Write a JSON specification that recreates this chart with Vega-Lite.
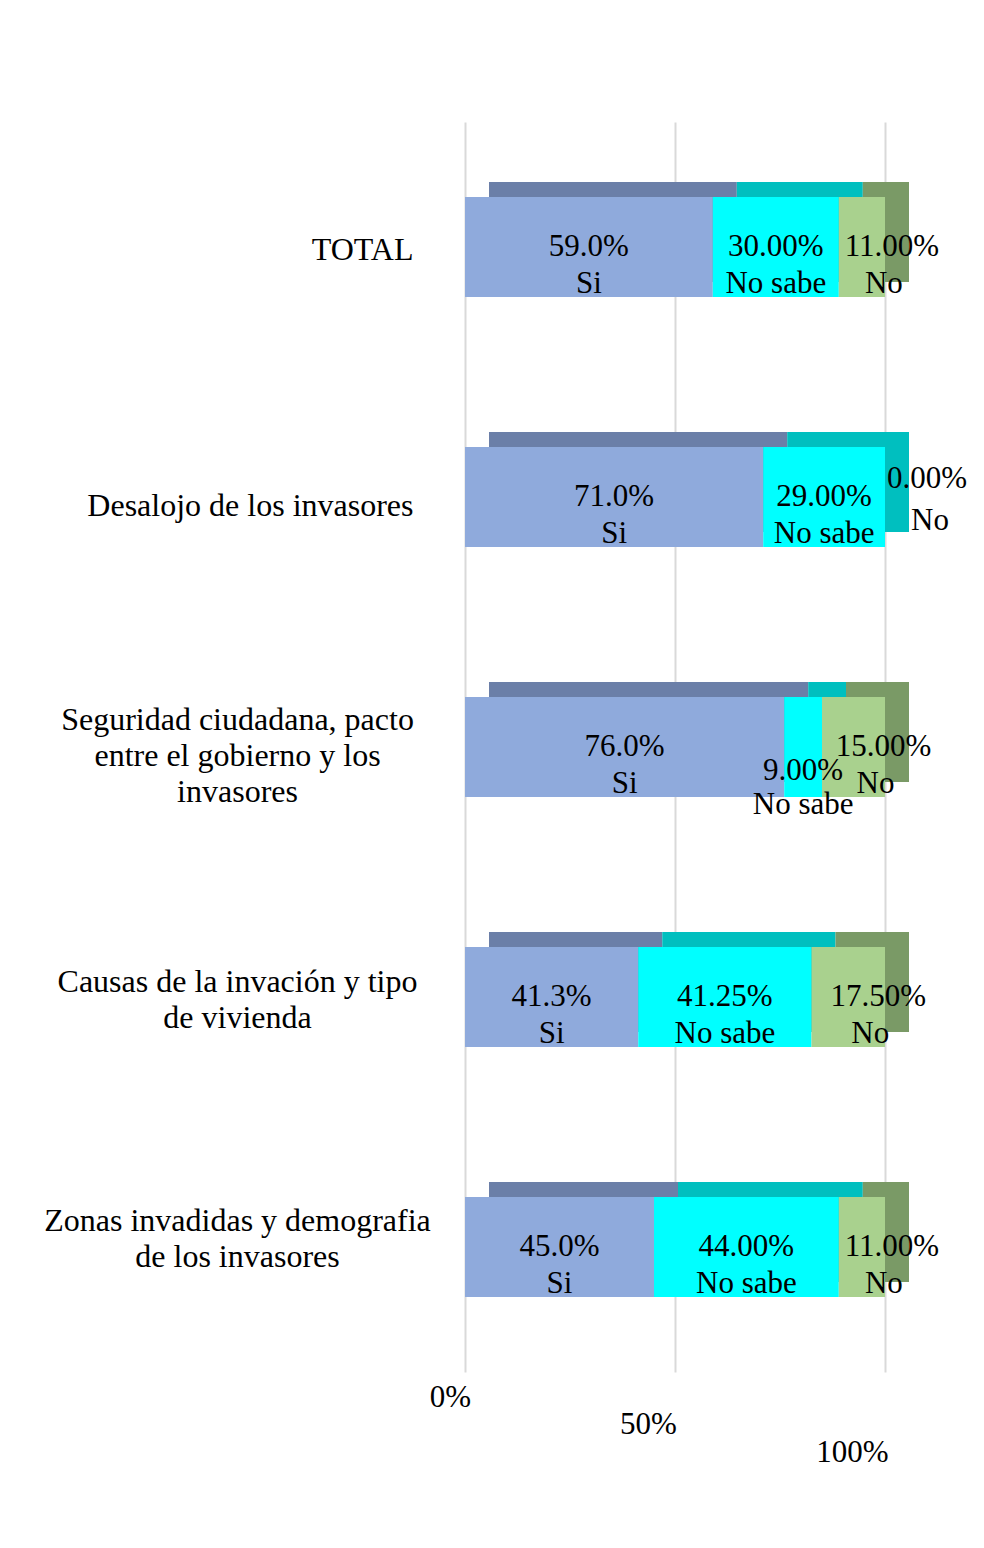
{
  "$schema": "https://vega.github.io/schema/vega-lite/v6.json",
  "autosize": "none",
  "padding": {"left": 465, "top": 122, "right": 99, "bottom": 176},
  "width": 420,
  "height": 1250,
  "background": "white",
  "config": {"view": {"stroke": null}, "font": "Liberation Serif"},
  "data": {
    "values": [
      {"categoria": "TOTAL", "serie": "Si", "valor": 0.59, "etiqueta": "59.0%"},
      {"categoria": "TOTAL", "serie": "No sabe", "valor": 0.30, "etiqueta": "30.00%"},
      {"categoria": "TOTAL", "serie": "No", "valor": 0.11, "etiqueta": "11.00%"},
      {"categoria": "Desalojo de los invasores", "serie": "Si", "valor": 0.71, "etiqueta": "71.0%"},
      {"categoria": "Desalojo de los invasores", "serie": "No sabe", "valor": 0.29, "etiqueta": "29.00%"},
      {"categoria": "Desalojo de los invasores", "serie": "No", "valor": 0.0, "etiqueta": "0.00%"},
      {"categoria": "Seguridad ciudadana, pacto entre el gobierno y los invasores", "serie": "Si", "valor": 0.76, "etiqueta": "76.0%"},
      {"categoria": "Seguridad ciudadana, pacto entre el gobierno y los invasores", "serie": "No sabe", "valor": 0.09, "etiqueta": "9.00%"},
      {"categoria": "Seguridad ciudadana, pacto entre el gobierno y los invasores", "serie": "No", "valor": 0.15, "etiqueta": "15.00%"},
      {"categoria": "Causas de la invación y tipo de vivienda", "serie": "Si", "valor": 0.4125, "etiqueta": "41.3%"},
      {"categoria": "Causas de la invación y tipo de vivienda", "serie": "No sabe", "valor": 0.4125, "etiqueta": "41.25%"},
      {"categoria": "Causas de la invación y tipo de vivienda", "serie": "No", "valor": 0.175, "etiqueta": "17.50%"},
      {"categoria": "Zonas invadidas y demografia de los invasores", "serie": "Si", "valor": 0.45, "etiqueta": "45.0%"},
      {"categoria": "Zonas invadidas y demografia de los invasores", "serie": "No sabe", "valor": 0.44, "etiqueta": "44.00%"},
      {"categoria": "Zonas invadidas y demografia de los invasores", "serie": "No", "valor": 0.11, "etiqueta": "11.00%"}
    ]
  },
  "transform": [
    {"stack": "valor", "groupby": ["categoria"], "sort": [{"field": "serie", "order": "descending"}], "as": ["x0", "x1"]},
    {"calculate": "(datum.x0 + datum.x1) / 2", "as": "xm"}
  ],
  "encoding": {
    "y": {
      "field": "categoria",
      "type": "nominal",
      "sort": ["TOTAL", "Desalojo de los invasores", "Seguridad ciudadana, pacto entre el gobierno y los invasores", "Causas de la invación y tipo de vivienda", "Zonas invadidas y demografia de los invasores"],
      "scale": {"paddingInner": 0.6, "paddingOuter": 0.3},
      "axis": {
        "title": null,
        "domain": false,
        "ticks": false,
        "labelFont": "Liberation Serif",
        "labelFontSize": 32,
        "labelColor": "black",
        "labelLimit": 500,
        "labelLineHeight": 36,
        "labelBaseline": "middle",
        "labelExpr": "datum.value == 'Seguridad ciudadana, pacto entre el gobierno y los invasores' ? ['Seguridad ciudadana, pacto', 'entre el gobierno y los', 'invasores'] : datum.value == 'Causas de la invación y tipo de vivienda' ? ['Causas de la invación y tipo', 'de vivienda'] : datum.value == 'Zonas invadidas y demografia de los invasores' ? ['Zonas invadidas y demografia', 'de los invasores'] : datum.value",
        "labelAlign": {"condition": {"test": "indexof(datum.value, ' y ') >= 0", "value": "center"}, "value": "right"},
        "labelPadding": {"condition": {"test": "indexof(datum.value, ' y ') >= 0", "value": 228}, "value": 52},
        "labelOffset": {"condition": [
          {"test": "datum.value == 'TOTAL'", "value": 3},
          {"test": "datum.value == 'Desalojo de los invasores'", "value": 9},
          {"test": "datum.value == 'Seguridad ciudadana, pacto entre el gobierno y los invasores'", "value": -27},
          {"test": "datum.value == 'Causas de la invación y tipo de vivienda'", "value": -15}
        ], "value": -26}
      }
    }
  },
  "layer": [
    {
      "mark": {"type": "bar", "xOffset": 24, "x2Offset": 24, "yOffset": -15, "y2Offset": -15},
      "encoding": {
        "x": {
          "field": "x0",
          "type": "quantitative",
          "scale": {"domain": [0, 1], "nice": false},
          "axis": {
            "title": null,
            "values": [0, 0.5, 1],
            "format": ".0%",
            "domain": false,
            "ticks": false,
            "grid": true,
            "gridColor": "#D9D9D9",
            "gridWidth": 2,
            "labelFont": "Liberation Serif",
            "labelFontSize": 31,
            "labelColor": "black",
            "labelBaseline": "top",
            "labelAlign": "center",
            "labelPadding": {"condition": [{"test": "datum.value == 0", "value": 10}, {"test": "datum.value == 0.5", "value": 37}], "value": 65},
            "labelOffset": {"condition": [{"test": "datum.value == 0", "value": -15}, {"test": "datum.value == 0.5", "value": -27}], "value": -33}
          }
        },
        "x2": {"field": "x1"},
        "fill": {
          "field": "serie",
          "type": "nominal",
          "scale": {"domain": ["Si", "No sabe", "No"], "range": ["#6B7FA8", "#00BFBF", "#7A9A66"]},
          "legend": null
        }
      }
    },
    {
      "mark": {"type": "bar"},
      "encoding": {
        "x": {"field": "x0", "type": "quantitative"},
        "x2": {"field": "x1"},
        "color": {
          "field": "serie",
          "type": "nominal",
          "scale": {"domain": ["Si", "No sabe", "No"], "range": ["#8FAADC", "#00FFFF", "#A9D18E"]},
          "legend": null
        }
      }
    },
    {
      "mark": {
        "type": "text", "fontSize": 31, "font": "Liberation Serif", "color": "black", "baseline": "middle",
        "dx": {"expr": "datum.serie == 'No' ? (datum.valor == 0 ? 42 : 30) : 0"},
        "dy": {"expr": "datum.serie == 'No' && datum.valor == 0 ? -18 : (datum.serie == 'No sabe' && datum.valor < 0.1 ? 24 : 0)"}
      },
      "encoding": {
        "x": {"field": "xm", "type": "quantitative"},
        "text": {"field": "etiqueta"}
      }
    },
    {
      "mark": {
        "type": "text", "fontSize": 31, "font": "Liberation Serif", "color": "black", "baseline": "middle",
        "dx": {"expr": "datum.serie == 'No' ? (datum.valor == 0 ? 45 : 22) : 0"},
        "dy": {"expr": "datum.serie == 'No sabe' && datum.valor < 0.1 ? 58 : (datum.serie == 'No' && datum.valor == 0 ? 24 : 37)"}
      },
      "encoding": {
        "x": {"field": "xm", "type": "quantitative"},
        "text": {"field": "serie"}
      }
    }
  ]
}
